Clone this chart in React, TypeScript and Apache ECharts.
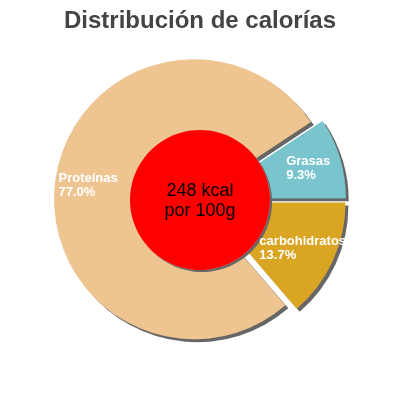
import React, { useEffect, useRef } from 'react';
import * as echarts from 'echarts';

const categories = ['Grasas', 'carbohidratos', 'Proteínas'];
const percentages = [9.3, 13.7, 77.0];
const colors = ['#7AC5CD', '#DAA520', '#EEC591'];
const kcal = 248;
const titleText = 'Distribución de calorías';

const App: React.FC = () => {
  const chartRef = useRef<HTMLDivElement>(null);

  useEffect(() => {
    if (!chartRef.current) return;
    const chart = echarts.init(chartRef.current, undefined, { renderer: 'svg' });

    const startAngle = (percentages[0] / 100) * 360;
    const font = '"Liberation Sans", Arial, sans-serif';

    const sliceData = categories.map((name, i) => ({
      name,
      value: percentages[i],
      selected: true,
      itemStyle: { color: colors[i] },
    }));

    const option = {
      animation: false,
      title: {
        text: titleText,
        left: 'center',
        top: 2,
        textStyle: {
          fontSize: 24,
          fontWeight: 'bold',
          color: '#444',
          fontFamily: font,
        },
      },
      series: [
        {
          // sectores con sombra
          type: 'pie',
          z: 2,
          center: [200, 200],
          radius: [0, 140],
          startAngle,
          clockwise: true,
          selectedMode: 'multiple',
          selectedOffset: 6,
          silent: true,
          label: { show: false },
          labelLine: { show: false },
          itemStyle: {
            shadowBlur: 0,
            shadowOffsetX: 3,
            shadowOffsetY: 3,
            shadowColor: '#666',
          },
          data: sliceData,
        },
        {
          // círculo central
          type: 'pie',
          z: 4,
          center: [200, 200],
          radius: [0, 70],
          silent: true,
          itemStyle: {
            color: '#FF0000',
            shadowBlur: 0,
            shadowOffsetX: 2,
            shadowOffsetY: 2,
            shadowColor: '#666',
          },
          label: {
            show: true,
            position: 'center',
            formatter: () => `${kcal} kcal\npor 100g`,
            color: '#000',
            fontSize: 18,
            lineHeight: 20,
            fontFamily: font,
          },
          labelLine: { show: false },
          data: [{ name: 'kcal', value: kcal }],
        },
        {
          // etiquetas
          type: 'pie',
          z: 6,
          center: [200, 200],
          radius: [68, 140],
          startAngle,
          clockwise: true,
          selectedMode: 'multiple',
          selectedOffset: 6,
          silent: true,
          itemStyle: { color: 'rgba(0,0,0,0)' },
          label: {
            show: true,
            position: 'inside',
            formatter: (p: any) => `{a|${p.name}}\n{a|${p.value.toFixed(1)}%}`,
            rich: {
              a: {
                align: 'left',
                color: '#fff',
                fontSize: 13,
                fontWeight: 'bold',
                lineHeight: 14,
                fontFamily: font,
              },
            },
          },
          labelLine: { show: false },
          data: categories.map((name, i) => ({
            name,
            value: percentages[i],
            selected: true,
          })),
        },
      ],
    };

    chart.setOption(option);

    return () => {
      chart.dispose();
    };
  }, []);

  return (
    <div
      ref={chartRef}
      style={{ position: 'fixed', left: 0, top: 0, width: '400px', height: '400px' }}
    />
  );
};

export default App;
